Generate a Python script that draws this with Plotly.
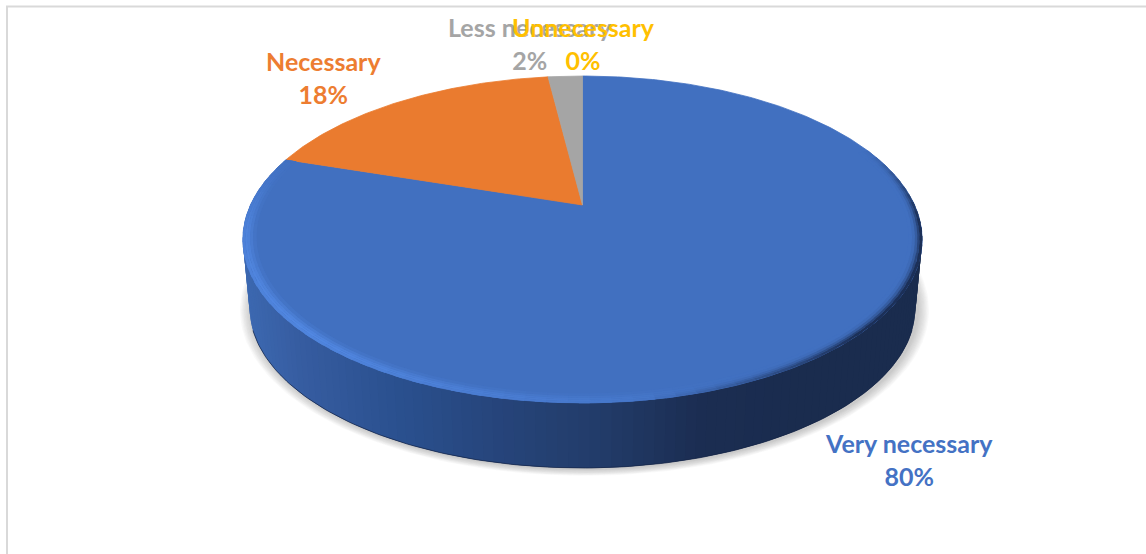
import numpy as np
import plotly.graph_objects as go

# ---- data ----
categories = ["Very necessary", "Necessary", "Less necessary", "Unnecessary"]
shares = [80, 18, 2, 0]
colors = ["#4170C0", "#EA7B2F", "#A5A5A5", "#FFC000"]
label_colors = ["#4472C4", "#ED7D31", "#A5A5A5", "#FFC000"]

# ---- layout constants ----
W, H = 1146, 554
CX, CY, A, B, K = 582.5, 205.0, 332.0, 156.2, 0.211
DEPTH, SHRINK = 69.0, 0.98
label_xy = [(909, 459), (323, 77), (530, 43), (583, 43)]


def project(theta_deg, r=1.0, level=0.0, grow=1.0, dx=0.0, dy=0.0):
    """Perspective projection of a point on the pie disc (theta clockwise from top)."""
    t = np.radians(theta_deg)
    u, v = r * np.sin(t), r * np.cos(t)
    s = (1 - level * (1 - SHRINK)) * grow
    d = 1 + K * v
    return CX + dx + s * A * u / d, CY + level * DEPTH + dy - s * B * v / d


def hexmix(c1, c2, t):
    a = np.array(c1, float)
    b = np.array(c2, float)
    m = a + (b - a) * t
    return "rgb(%d,%d,%d)" % tuple(np.round(m))


def rgb(h):
    return [int(h[i:i + 2], 16) for i in (1, 3, 5)]


fig = go.Figure()


def poly(xs, ys, color, seam=0.0):
    fig.add_trace(go.Scatter(x=xs, y=ys, mode="lines", fill="toself", fillcolor=color,
                             line=dict(color=color, width=seam), hoverinfo="skip",
                             showlegend=False))


# soft shadow under the pie
for i in range(10):
    g = 1.035 - i * 0.0035
    x, y = project(np.linspace(0, 360, 240), 1, 1, g, 2, 1)
    fig.add_trace(go.Scatter(x=x, y=y, mode="lines", fill="toself",
                             fillcolor="rgba(120,120,120,0.045)", line=dict(width=0),
                             hoverinfo="skip", showlegend=False))

# side wall of the disc
side_x = [245, 300, 400, 500, 600, 700, 800, 925]
side_r = [60, 54, 42, 38, 34, 27, 26, 26]
side_g = [104, 92, 80, 68, 60, 45, 44, 44]
side_b = [176, 160, 142, 122, 105, 82, 78, 78]


def side_rgb(px):
    return [np.interp(px, side_x, side_r), np.interp(px, side_x, side_g),
            np.interp(px, side_x, side_b)]


# strips overlap the next one so no seam shows; painted in order
ths = np.arange(272, 87.9, -1.5)
for t0 in ths:
    seg = np.linspace(t0 - 3.0, t0, 4)
    seg = np.clip(seg, 88, 272)
    xt, yt = project(seg, 1, 0)
    xb, yb = project(seg, 1, 1)
    xs = np.r_[xt, xb[::-1], xt[0]]
    ys = np.r_[yt, yb[::-1], yt[0]]
    px = project(t0 - 0.75, 1, 0)[0]
    poly(xs, ys, hexmix(side_rgb(px), side_rgb(px), 0))

# dark outline at the foot of the wall
xb, yb = project(np.linspace(110, 250, 160), 1, 1)
fig.add_trace(go.Scatter(x=xb, y=yb, mode="lines", line=dict(color="rgba(20,35,70,0.7)", width=1.0),
                         hoverinfo="skip", showlegend=False))

# pie wedges on the top face, from the cumulative shares
total = float(sum(shares))
start = 0.0
for name, val, col in zip(categories, shares, colors):
    sweep = 360.0 * val / total
    if sweep > 0:
        arc = np.linspace(start, start + sweep, max(int(sweep * 1.5), 4))
        x, y = project(arc, 1, 0)
        poly(np.r_[CX, x, CX], np.r_[CY, y, CY], col, 0.8)
    start += sweep

# bevel around the rim of the blue wedge
top = rgb(colors[0])
hi = [82, 136, 226]
dark_edge = [28, 48, 88]
bands = np.array([0.962, 0.972, 0.98, 0.987, 0.993, 1.001])
hi_profile = [0.2, 0.55, 0.85, 1.0, 0.85]
dark_profile = [0.0, 0.08, 0.3, 0.65, 1.0]
steps = np.arange(68, 288, 3.0)
for t0 in steps:
    tm = t0 + 1.5
    h = np.interp(tm, [150, 190, 225, 262, 288], [0, 0.55, 1.0, 0.8, 0.0])
    d = np.interp(tm, [68, 95, 135, 172], [0.0, 1.0, 1.0, 0.0])
    for j in range(len(hi_profile)):
        seg = np.linspace(t0, min(t0 + 4.5, 288), 4)
        xo, yo = project(seg, bands[j + 1], 0)
        xi, yi = project(seg, bands[j], 0)
        col = [top[c] + (hi[c] - top[c]) * h * hi_profile[j]
               + (dark_edge[c] - top[c]) * d * dark_profile[j] for c in range(3)]
        poly(np.r_[xo, xi[::-1], xo[0]], np.r_[yo, yi[::-1], yo[0]],
             hexmix(col, col, 0))

# labels
annotations = []
for name, val, col, (lx, ly) in zip(categories, shares, label_colors, label_xy):
    annotations.append(dict(x=lx, y=ly, xref="x", yref="y", showarrow=False,
                            text=f"<b>{name}<br>{val}%</b>", align="center",
                            font=dict(family="Lato, Carlito, sans-serif", size=25, color=col)))

shapes = [
    dict(type="line", xref="x", yref="y", x0=6, x1=W, y0=6.5, y1=6.5,
         line=dict(color="#D9D9D9", width=2)),
    dict(type="line", xref="x", yref="y", x0=7, x1=7, y0=6, y1=H,
         line=dict(color="#D9D9D9", width=2)),
]

fig.update_layout(
    width=W, height=H, margin=dict(l=0, r=0, t=0, b=0),
    paper_bgcolor="white", plot_bgcolor="white", showlegend=False,
    xaxis=dict(range=[0, W], visible=False, fixedrange=True),
    yaxis=dict(range=[H, 0], visible=False, fixedrange=True),
    annotations=annotations, shapes=shapes,
)
fig.write_html("out.html", config={"displayModeBar": False},
               post_script="document.body.style.margin='0';document.body.style.overflow='hidden';")
